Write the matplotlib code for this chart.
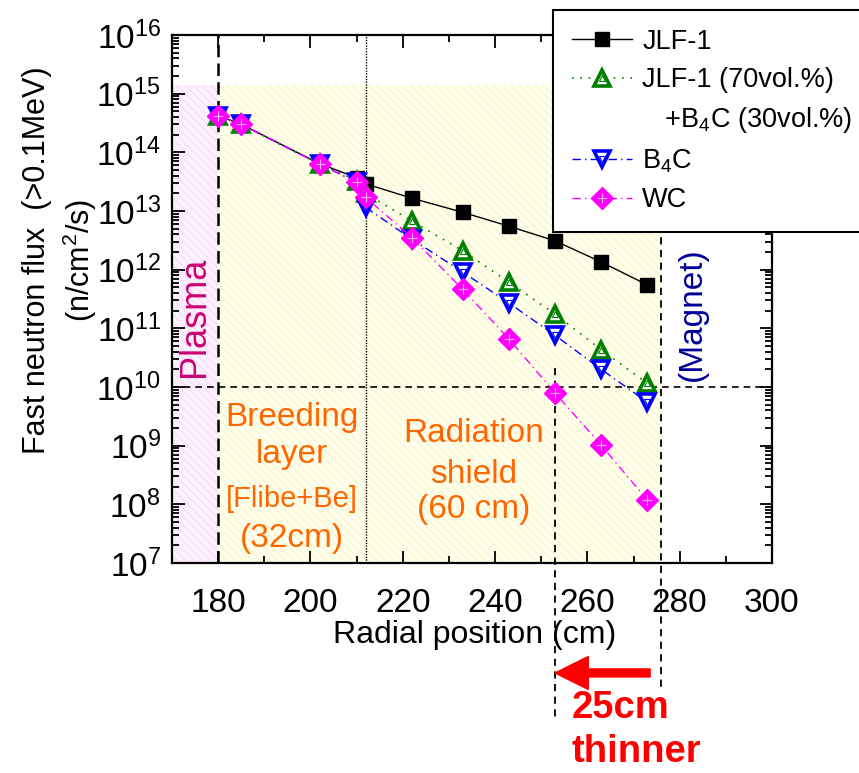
import matplotlib
matplotlib.use("Agg")
import matplotlib.pyplot as plt
import matplotlib.transforms as mtransforms
from matplotlib.lines import Line2D
from matplotlib.patches import FancyArrow
from matplotlib.ticker import LogLocator, NullFormatter, MultipleLocator
from matplotlib.legend_handler import HandlerTuple

plt.rcParams['font.family'] = ['Liberation Sans', 'DejaVu Sans']
plt.rcParams['mathtext.fontset'] = 'custom'
plt.rcParams['mathtext.rm'] = 'Liberation Sans'
plt.rcParams['mathtext.it'] = 'Liberation Sans:italic'
plt.rcParams['mathtext.bf'] = 'Liberation Sans:bold'
plt.rcParams['hatch.linewidth'] = 0.7

# Radial positions (cm) and fast neutron flux (>0.1 MeV, n/cm^2/s)
radius = [180, 185, 202, 210, 212, 222, 233, 243, 253, 263, 273]
flux_jlf1 = [4.2e14, 3.0e14, 6.4e13, 3.7e13, 2.9e13, 1.65e13, 9.5e12, 5.5e12, 3.1e12, 1.35e12, 5.5e11]
flux_jlf1_b4c = [4.2e14, 3.0e14, 6.3e13, 3.3e13, 2.0e13, 6.7e12, 2.1e12, 6.1e11, 1.75e11, 4.3e10, 1.15e10]
flux_b4c = [4.2e14, 3.0e14, 6.3e13, 3.1e13, 1.15e13, 3.3e12, 9.1e11, 2.7e11, 7.6e10, 2.0e10, 5.5e9]
flux_wc = [4.2e14, 3.0e14, 6.3e13, 3.1e13, 1.7e13, 3.5e12, 4.6e11, 6.6e10, 7.9e9, 1.02e9, 1.18e8]

series_labels = ["JLF-1", "JLF-1 (70vol.%)", "   +B$_\\mathregular{4}$C (30vol.%)",
                 "B$_\\mathregular{4}$C", "WC"]

# Region boundaries (cm) and flux limit
plasma_edge = 180
breeder_edge = 212
magnet_edge = 276
thin_edge = 253
flux_limit = 1e10
shade_top = 1.4e15

fig = plt.figure(figsize=(8.59, 7.73), dpi=100)
ax = fig.add_axes([0.2002, 0.2717, 0.6985, 0.683])

ax.set_yscale('log')
ax.set_xlim(170, 300)
ax.set_ylim(1e7, 1e16)

# shaded zones
ax.fill_between([170, plasma_edge], 1e7, shade_top, facecolor='#FDF0FD',
                edgecolor='#F5DAF5', hatch='\\\\\\\\', linewidth=0, zorder=0)
ax.fill_between([plasma_edge, magnet_edge], 1e7, shade_top, facecolor='#FFFFEC',
                edgecolor='#F3F3C8', hatch='\\\\\\\\', linewidth=0, zorder=0)

blend = mtransforms.blended_transform_factory(ax.transData, ax.transAxes)

# guide lines
ax.plot([plasma_edge, plasma_edge], [0, 1], transform=blend, color='black',
        lw=1.8, ls=(0, (5, 2.5)), zorder=1)
ax.plot([breeder_edge, breeder_edge], [0, 1], transform=blend, color='black',
        lw=1.0, ls=(0, (1, 1)), zorder=1)
ax.axhline(flux_limit, color='black', lw=1.2, ls=(0, (4, 3)), zorder=1)
ax.plot([thin_edge, thin_edge], [0.369, -0.297], transform=blend, color='black',
        lw=1.3, ls=(0, (4, 3)), zorder=1, clip_on=False)
ax.plot([magnet_edge, magnet_edge], [1, -0.237], transform=blend, color='black',
        lw=1.3, ls=(0, (4, 3)), zorder=1, clip_on=False)

# data series
l1, = ax.plot(radius, flux_jlf1, color='black', lw=1.0, marker='s', ms=10.5,
              mfc='black', mec='black', zorder=3)
l2, = ax.plot(radius, flux_jlf1_b4c, color='#008000', lw=1.2, ls=(0, (1, 4)),
              marker='^', ms=11.5, mfc='white', mec='#008000', mew=2.6, zorder=4)
l2i, = ax.plot(radius, flux_jlf1_b4c, ls='none', marker='^', ms=4, mfc='none',
               mec='#008000', mew=0.8, zorder=4)
l3, = ax.plot(radius, flux_b4c, color='#0000FF', lw=1.0, ls=(0, (6, 3, 1, 3)),
              marker='v', ms=11.5, mfc='white', mec='#0000FF', mew=2.6, zorder=5)
l3i, = ax.plot(radius, flux_b4c, ls='none', marker='v', ms=4, mfc='none',
               mec='#0000FF', mew=0.8, zorder=5)
l4, = ax.plot(radius, flux_wc, color='#FF00FF', lw=1.0, ls=(0, (6, 3, 1, 3)),
              marker='D', ms=11, mfc='#FF00FF', mec='#FF00FF', zorder=6)
l4i, = ax.plot(radius, flux_wc, ls='none', marker='+', ms=7, mec='#FFB0FF',
               mew=0.8, zorder=6)

# axes styling
ax.xaxis.set_major_locator(MultipleLocator(20))
ax.xaxis.set_minor_locator(MultipleLocator(10))
ax.yaxis.set_major_locator(LogLocator(base=10, numticks=20))
ax.yaxis.set_minor_locator(LogLocator(base=10, subs=range(2, 10), numticks=200))
ax.yaxis.set_minor_formatter(NullFormatter())
ax.tick_params(which='both', direction='in', top=True, right=True, width=1.3)
ax.tick_params(which='major', length=9, labelsize=24)
ax.tick_params(which='minor', length=5)
ax.tick_params(axis='x', which='major', pad=18)
ax.tick_params(axis='y', which='major', pad=8)
for sp in ax.spines.values():
    sp.set_linewidth(1.6)

ax.set_xlabel("Radial position (cm)", fontsize=23)
ax.xaxis.set_label_coords(0.505, -0.108)
ax.xaxis.label.set_va('top')
ax.set_ylabel("Fast neutron flux  (>0.1MeV)\n(n/cm$^\\mathregular{2}$/s)", fontsize=22,
              linespacing=1.3)
ax.yaxis.set_label_coords(-0.122, 0.574)

# region annotations
orange = '#FF6600'
ax.text(0.2, 0.2595, "Breeding", transform=ax.transAxes, ha='center', va='baseline',
        fontsize=24, color=orange)
ax.text(0.2, 0.1894, "layer", transform=ax.transAxes, ha='center', va='baseline',
        fontsize=24, color=orange)
ax.text(0.2, 0.1061, "[Flibe+Be]", transform=ax.transAxes, ha='center', va='baseline',
        fontsize=21, color=orange)
ax.text(0.2, 0.0303, "(32cm)", transform=ax.transAxes, ha='center', va='baseline',
        fontsize=24, color=orange)
ax.text(0.5025, 0.2292, "Radiation", transform=ax.transAxes, ha='center', va='baseline',
        fontsize=24, color=orange)
ax.text(0.5025, 0.1515, "shield", transform=ax.transAxes, ha='center', va='baseline',
        fontsize=24, color=orange)
ax.text(0.5025, 0.0852, "(60 cm)", transform=ax.transAxes, ha='center', va='baseline',
        fontsize=24, color=orange)
ax.text(0.0383, 0.466, "Plasma", transform=ax.transAxes, ha='center', va='center',
        rotation=90, fontsize=26, color='#CC0077')
ax.text(0.8667, 0.4716, "(Magnet)", transform=ax.transAxes, ha='center', va='center',
        rotation=90, fontsize=24, color='#000099')

# thinner-shield arrow
arrow = FancyArrow(273.6, -0.2083, thin_edge - 273.6, 0, width=0.0152,
                   head_width=0.0625, head_length=7.2, length_includes_head=True,
                   transform=blend, color='#FF0000', clip_on=False, zorder=6)
ax.add_patch(arrow)
ax.text(0.6667, -0.2936, "25cm", transform=ax.transAxes, ha='left', va='baseline',
        fontsize=27.5, fontweight='bold', color='#FF0000', clip_on=False)
ax.text(0.6667, -0.377, "thinner", transform=ax.transAxes, ha='left', va='baseline',
        fontsize=27.5, fontweight='bold', color='#FF0000', clip_on=False)

# legend
blank = Line2D([], [], ls='none', marker='none')
leg = fig.legend([l1, (l2, l2i), blank, (l3, l3i), (l4, l4i)], series_labels,
                 handler_map={tuple: HandlerTuple(ndivide=1, pad=0)},
                 loc='upper left', bbox_to_anchor=(553 / 859, 1 - 10 / 773),
                 fontsize=19.5, frameon=True, fancybox=False, framealpha=1,
                 edgecolor='black', borderpad=0.7, labelspacing=0.45,
                 handlelength=2.2, handletextpad=0.4, borderaxespad=0)
leg.get_frame().set_linewidth(1.5)
leg.set_zorder(10)

fig.savefig("out.png", dpi=100)
